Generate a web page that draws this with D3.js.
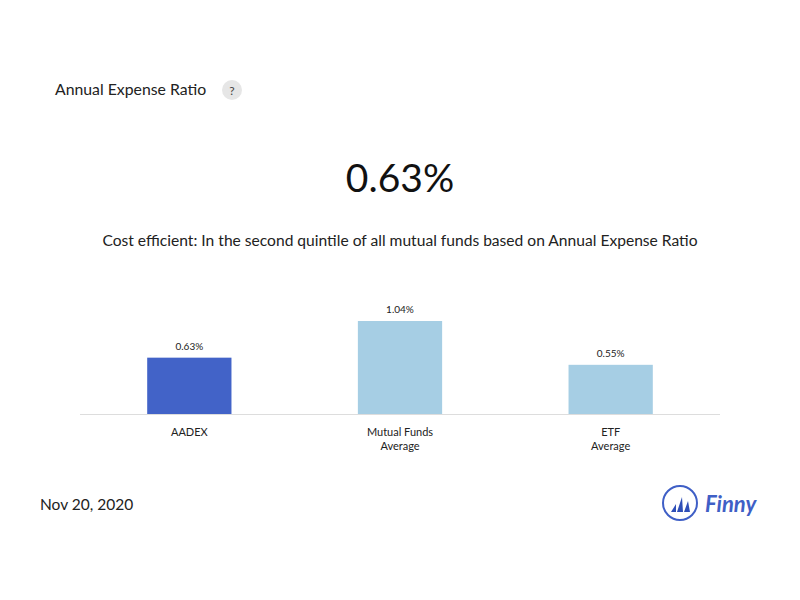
<!DOCTYPE html>
<html>
<head>
<meta charset="utf-8">
<script src="https://cdn.jsdelivr.net/npm/d3@7"></script>
<style>
  body { margin: 0; background: #fff; font-family: Lato, "Open Sans", sans-serif; }
</style>
</head>
<body>
<div id="chart"></div>
<script>
// Data
const categories = ["AADEX", "Mutual Funds\nAverage", "ETF\nAverage"];
const values = [0.63, 1.04, 0.55];
const barColors = ["#4263c8", "#a6cee4", "#a6cee4"];

const width = 800, height = 600;
const svg = d3.select("#chart").append("svg")
  .attr("width", width).attr("height", height);

// Header
svg.append("text").attr("x", 55).attr("y", 95)
  .attr("font-size", 15.8).attr("fill", "#222").text("Annual Expense Ratio");
svg.append("circle").attr("cx", 232).attr("cy", 90).attr("r", 10).attr("fill", "#e6e6e6");
svg.append("text").attr("x", 232).attr("y", 94.5).attr("text-anchor", "middle")
  .attr("font-size", 12).attr("fill", "#444").text("?");

svg.append("text").attr("x", 400).attr("y", 192).attr("text-anchor", "middle")
  .attr("font-size", 39).attr("fill", "#111").text("0.63%");
svg.append("text").attr("x", 400).attr("y", 246).attr("text-anchor", "middle")
  .attr("font-size", 15.6).attr("fill", "#222")
  .text("Cost efficient: In the second quintile of all mutual funds based on Annual Expense Ratio");

// Bars
const x = d3.scaleBand().domain(categories).range([84, 716])
  .paddingInner(0.6).paddingOuter(0.3);
const y = d3.scaleLinear().domain([0, 1.04]).range([414, 321]);

svg.selectAll(".bar").data(values).enter().append("rect")
  .attr("x", (d, i) => x(categories[i]))
  .attr("y", d => y(d))
  .attr("width", x.bandwidth())
  .attr("height", d => y(0) - y(d))
  .attr("fill", (d, i) => barColors[i]);

svg.selectAll(".val").data(values).enter().append("text")
  .attr("x", (d, i) => x(categories[i]) + x.bandwidth() / 2)
  .attr("y", d => y(d) - 8)
  .attr("text-anchor", "middle").attr("font-size", 10).attr("fill", "#222")
  .text(d => d.toFixed(2) + "%");

svg.append("line").attr("x1", 80).attr("x2", 720)
  .attr("y1", y(0) + 0.5).attr("y2", y(0) + 0.5)
  .attr("stroke", "#ddd");

const lab = svg.selectAll(".lab").data(categories).enter().append("text")
  .attr("text-anchor", "middle").attr("font-size", 11).attr("fill", "#222");
lab.each(function (d) {
  const t = d3.select(this);
  d.split("\n").forEach((s, j) => {
    t.append("tspan").attr("x", x(d) + x.bandwidth() / 2)
      .attr("y", 436 + j * 14).text(s);
  });
});

// Footer
svg.append("text").attr("x", 40).attr("y", 510)
  .attr("font-size", 15.5).attr("fill", "#222").text("Nov 20, 2020");

const logo = svg.append("g").attr("transform", "translate(680,503)");
logo.append("circle").attr("r", 17).attr("fill", "none")
  .attr("stroke", "#3f5fc6").attr("stroke-width", 2);
logo.append("path").attr("d", "M-9,9 L-4,1 L-4,9 Z M-3,9 L2,-6 L3,9 Z M4,9 L8,-2 L10,9 Z")
  .attr("fill", "#2f4fb8");
svg.append("text").attr("x", 705).attr("y", 512)
  .attr("font-size", 22).attr("font-weight", "bold").attr("font-style", "italic")
  .attr("fill", "#3f5fc6").text("Finny");
</script>
</body>
</html>
